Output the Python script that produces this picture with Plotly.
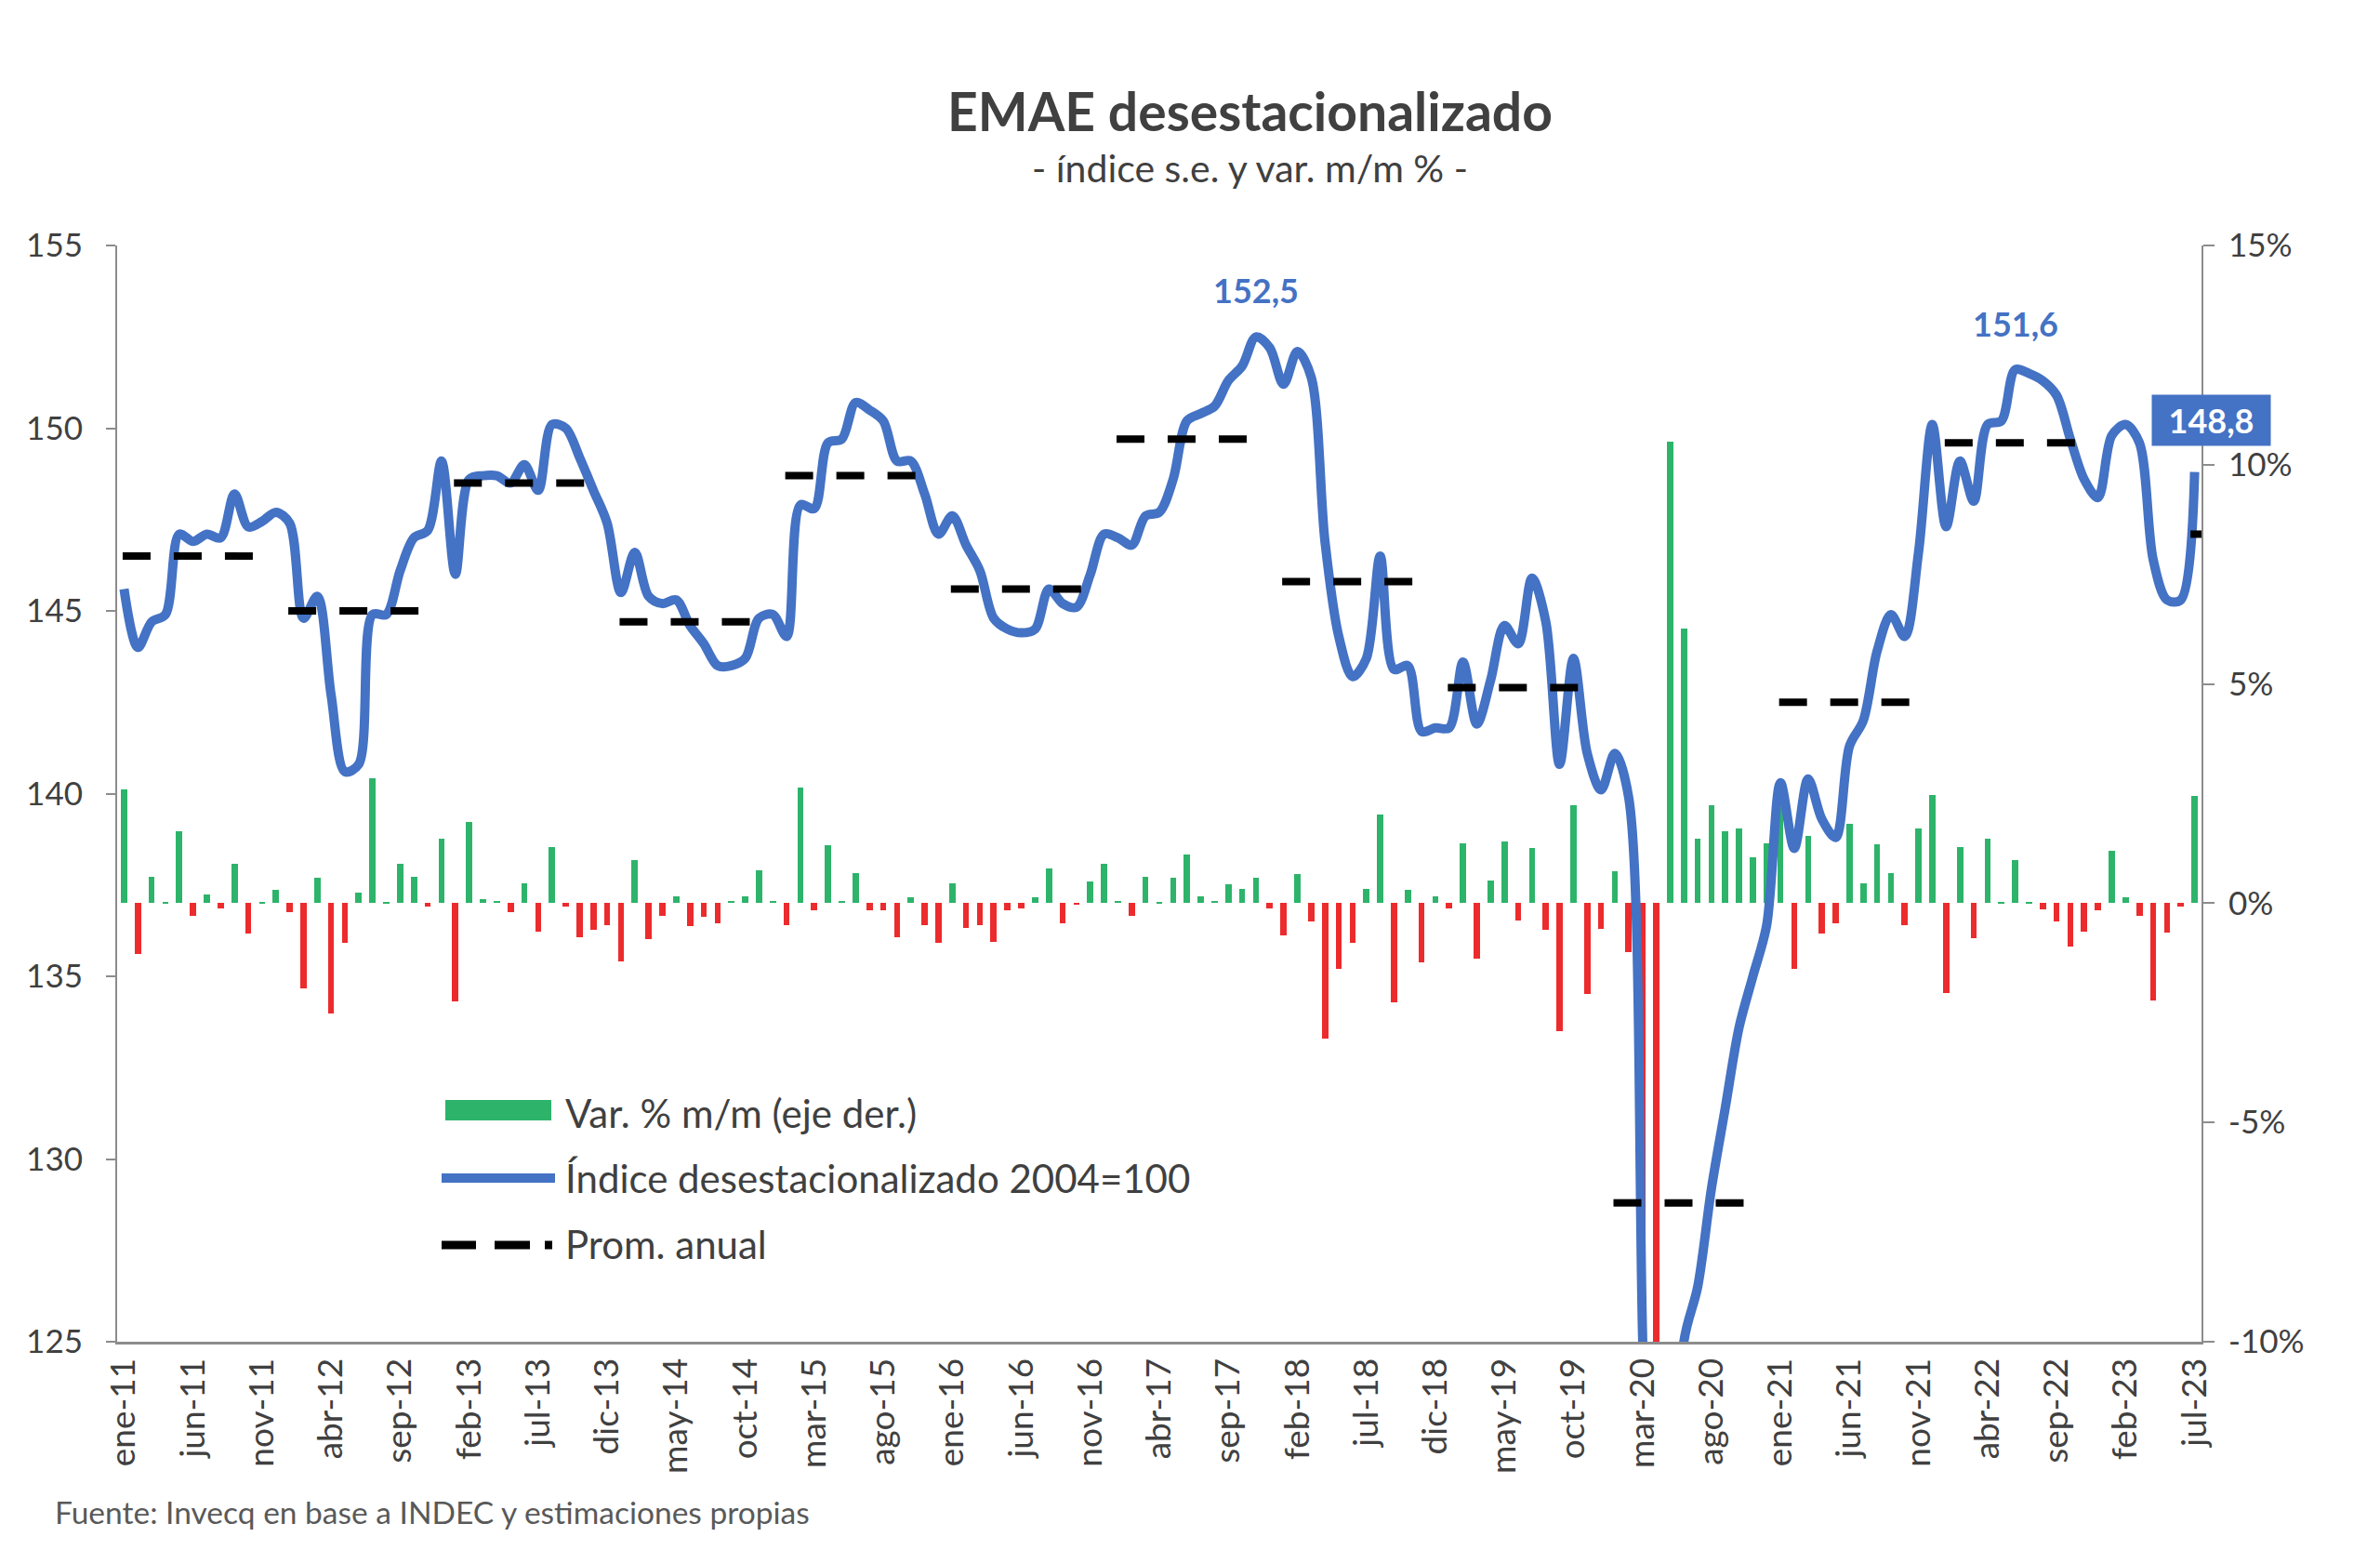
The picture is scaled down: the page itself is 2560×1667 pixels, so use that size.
import plotly.graph_objects as go

# ---------------- DATA ----------------
month_abbr = ["ene", "feb", "mar", "abr", "may", "jun", "jul", "ago", "sep", "oct", "nov", "dic"]
start_year = 2011
n_months = 151  # ene-11 .. jul-23

indice = [
    145.6, 144.0, 144.7, 144.9, 147.1, 146.9, 147.1, 147.0, 148.2, 147.3, 147.45, 147.7,   # 2011
    147.4, 144.8, 145.4, 142.7, 140.6, 140.8, 144.9, 144.9, 146.1, 147.0, 147.2, 149.1,   # 2012
    146.0, 148.6, 148.7, 148.7, 148.5, 149.0, 148.3, 150.1, 150.0, 149.2, 148.3, 147.4,   # 2013
    145.5, 146.6, 145.4, 145.2, 145.3, 144.6, 144.1, 143.5, 143.5, 143.7, 144.8, 144.9,   # 2014
    144.3, 147.9, 147.8, 149.6, 149.7, 150.7, 150.5, 150.2, 149.1, 149.1, 148.2, 147.1,   # 2015
    147.6, 146.8, 146.1, 144.8, 144.5, 144.4, 144.5, 145.6, 145.2, 145.1, 146.0, 147.1,   # 2016
    147.0, 146.8, 147.6, 147.7, 148.6, 150.2, 150.4, 150.6, 151.3, 151.7, 152.5, 152.2,   # 2017
    151.2, 152.1, 151.4, 146.9, 144.3, 143.2, 143.7, 146.5, 143.4, 143.5, 141.7, 141.8,   # 2018
    141.8, 143.6, 141.9, 143.1, 144.6, 144.1, 145.9, 144.7, 140.8, 143.7, 141.1, 140.1,   # 2019
    141.1, 139.9, 125.3, 105.5, 117.0, 125.0, 126.5, 129.2, 131.4, 133.6, 135.0, 136.4,   # 2020
    140.3, 138.5, 140.4, 139.3, 138.8, 141.3, 142.0, 143.9, 144.9, 144.3, 146.6, 150.1,   # 2021
    147.3, 149.1, 148.0, 150.1, 150.2, 151.6, 151.5, 151.3, 150.9, 149.7, 148.6, 148.1,   # 2022
    149.8, 150.1, 149.6, 146.4, 145.3, 145.3, 148.8,                                      # 2023
]

var_mm = [
    2.6, -1.16, 0.61, 0.03, 1.65, -0.28, 0.2, -0.12, 0.9, -0.69, 0.02, 0.3,               # 2011
    -0.2, -1.95, 0.58, -2.51, -0.91, 0.25, 2.84, 0.02, 0.89, 0.61, -0.07, 1.48,           # 2012
    -2.23, 1.86, 0.1, 0.05, -0.2, 0.46, -0.64, 1.29, -0.07, -0.78, -0.61, -0.5,           # 2013
    -1.32, 0.99, -0.81, -0.28, 0.16, -0.53, -0.3, -0.45, 0.05, 0.16, 0.76, 0.05,          # 2014
    -0.5, 2.64, -0.17, 1.32, 0.05, 0.68, -0.17, -0.17, -0.78, 0.13, -0.5, -0.91,          # 2015
    0.46, -0.56, -0.5, -0.89, -0.17, -0.12, 0.13, 0.79, -0.45, -0.03, 0.5, 0.9,           # 2016
    0.05, -0.28, 0.61, 0.02, 0.58, 1.12, 0.16, 0.05, 0.43, 0.33, 0.58, -0.12,             # 2017
    -0.74, 0.66, -0.41, -3.09, -1.49, -0.91, 0.33, 2.03, -2.26, 0.3, -1.35, 0.16,         # 2018
    -0.12, 1.37, -1.27, 0.51, 1.4, -0.4, 1.25, -0.61, -2.92, 2.23, -2.06, -0.58,          # 2019
    0.74, -1.11, -10.4, -16.0, 10.53, 6.27, 1.48, 2.24, 1.65, 1.7, 1.04, 1.37,            # 2020
    2.2, -1.49, 1.53, -0.69, -0.45, 1.81, 0.45, 1.35, 0.68, -0.5, 1.7, 2.47,              # 2021
    -2.05, 1.29, -0.79, 1.48, 0.03, 0.99, 0.02, -0.15, -0.41, -0.99, -0.64, -0.17,        # 2022
    1.2, 0.13, -0.28, -2.21, -0.66, -0.07, 2.44,                                          # 2023
]

prom_anual = [146.5, 145.0, 148.5, 144.7, 148.7, 145.6, 149.7, 145.8, 142.9, 128.8, 142.5, 149.6, 147.1]

left_ticks = [125, 130, 135, 140, 145, 150, 155]
right_ticks = [-10, -5, 0, 5, 10, 15]
right_ticktext = ["-10%", "-5%", "0%", "5%", "10%", "15%"]

# month labels
month_labels = [f"{month_abbr[i % 12]}-{(start_year + i // 12) % 100:02d}" for i in range(n_months)]
x = list(range(n_months))
tick_idx = list(range(0, n_months, 5))

# ---------------- STYLE ----------------
FONT = "Lato"
TXT = "#404040"
AXIS = "#8c8c8c"
GREEN = "#2DB46A"
RED = "#EC2B2D"
BLUE = "#4472C4"

fig = go.Figure()

# bars on main y (right side)
fig.add_trace(go.Bar(
    x=x, y=var_mm, width=0.45,
    marker=dict(color=[GREEN if v >= 0 else RED for v in var_mm], line=dict(width=0)),
    yaxis="y", name="Var. % m/m (eje der.)", showlegend=False,
))

# index line on y2 (left side)
fig.add_trace(go.Scatter(
    x=x, y=indice, mode="lines", yaxis="y2",
    line=dict(color=BLUE, width=10, shape="spline", smoothing=0.9),
    name="Índice desestacionalizado 2004=100", showlegend=False,
))

# annual averages
ax, ay = [], []
for k, v in enumerate(prom_anual):
    s = 12 * k
    e = min(s + 11, n_months - 1)
    if e - s < 11:  # partial last year: only a short dash at the end
        s, e = e - 0.3, e + 0.5
    else:
        s = s - 0.1
    ax += [s, e, None]
    ay += [v, v, None]
fig.add_trace(go.Scatter(
    x=ax, y=ay, mode="lines", yaxis="y2",
    line=dict(color="black", width=8, dash="30px,25px"),
    name="Prom. anual", showlegend=False, connectgaps=False,
))

# ---------------- LAYOUT ----------------
L, R, T, B = 126, 192, 264, 224
W, H = 2560, 1667
pw, ph = W - L - R, H - T - B

def px_x(p):
    return (p - L) / pw

def px_y(p):
    return (H - B - p) / ph

fig.update_layout(
    width=W, height=H,
    margin=dict(l=L, r=R, t=T, b=B, pad=0),
    paper_bgcolor="white", plot_bgcolor="white",
    showlegend=False, bargap=0,
    font=dict(family=FONT, color=TXT),
    xaxis=dict(
        range=[-0.5, n_months - 0.5],
        tickmode="array", tickvals=tick_idx, ticktext=[month_labels[i] for i in tick_idx],
        tickangle=-90, ticks="", showline=True, linecolor=AXIS, linewidth=3,
        showgrid=False, zeroline=False, ticklabelstandoff=0,
        tickfont=dict(family=FONT, size=37, color=TXT),
    ),
    yaxis=dict(
        side="right", range=[-10, 15],
        tickmode="array", tickvals=right_ticks, ticktext=right_ticktext,
        ticks="outside", ticklen=12, tickwidth=2, tickcolor=AXIS,
        showline=True, linecolor=AXIS, linewidth=2,
        showgrid=False, zeroline=False, ticklabelstandoff=8,
        tickfont=dict(family=FONT, size=35, color=TXT),
    ),
    yaxis2=dict(
        side="left", overlaying="y", range=[125, 155],
        tickmode="array", tickvals=left_ticks, ticktext=[str(t) for t in left_ticks],
        ticks="outside", ticklen=10, tickwidth=2, tickcolor=AXIS,
        showline=True, linecolor=AXIS, linewidth=2,
        showgrid=False, zeroline=False, ticklabelstandoff=18,
        tickfont=dict(family=FONT, size=35, color=TXT),
    ),
)

ann = []
# titles
ann.append(dict(text="<b>EMAE desestacionalizado</b>", xref="paper", yref="paper",
                x=px_x(1344), y=px_y(119), xanchor="center", yanchor="middle",
                showarrow=False, font=dict(family=FONT, size=57, color=TXT)))
ann.append(dict(text="- índice s.e. y var. m/m % -", xref="paper", yref="paper",
                x=px_x(1344), y=px_y(180), xanchor="center", yanchor="middle",
                showarrow=False, font=dict(family=FONT, size=41, color=TXT)))
ann.append(dict(text="Fuente: Invecq en base a INDEC y estimaciones propias", xref="paper", yref="paper",
                x=px_x(57), y=px_y(1626), xanchor="left", yanchor="middle",
                showarrow=False, font=dict(family=FONT, size=33.5, color="#595959")))

# value labels
def fmt(v):
    return f"{v:.1f}".replace(".", ",")

split = 9 * 12
i1 = max(range(0, split), key=lambda i: indice[i])
i2 = max(range(10 * 12, n_months), key=lambda i: indice[i])
for i in (i1, i2):
    ann.append(dict(text=f"<b>{fmt(indice[i])}</b>", x=i, y=indice[i], xref="x", yref="y2",
                    yshift=50, showarrow=False, xanchor="center", yanchor="middle",
                    font=dict(family=FONT, size=36, color=BLUE)))
last = n_months - 1
ann.append(dict(text=f"<b>{fmt(indice[last])}</b>", x=last, y=indice[last], xref="x", yref="y2",
                xshift=18, yshift=56, showarrow=False, xanchor="center", yanchor="middle",
                width=127, height=54, bgcolor=BLUE, borderpad=0,
                font=dict(family=FONT, size=36, color="white")))

# manual legend
leg_items = [("Var. % m/m (eje der.)", 1197), ("Índice desestacionalizado 2004=100", 1267), ("Prom. anual", 1338)]
for txt, yy in leg_items:
    ann.append(dict(text=txt, xref="paper", yref="paper", x=px_x(606), y=px_y(yy),
                    xanchor="left", yanchor="middle", showarrow=False,
                    font=dict(family=FONT, size=42, color=TXT)))
fig.update_layout(annotations=ann)

shapes = [
    dict(type="rect", xref="paper", yref="paper", x0=px_x(479), x1=px_x(593),
         y0=px_y(1205), y1=px_y(1183), fillcolor=GREEN, line=dict(width=0)),
    dict(type="line", xref="paper", yref="paper", x0=px_x(475), x1=px_x(597),
         y0=px_y(1267), y1=px_y(1267), line=dict(color=BLUE, width=10)),
    dict(type="line", xref="paper", yref="paper", x0=px_x(475), x1=px_x(512),
         y0=px_y(1339), y1=px_y(1339), line=dict(color="black", width=9)),
    dict(type="line", xref="paper", yref="paper", x0=px_x(532), x1=px_x(570),
         y0=px_y(1339), y1=px_y(1339), line=dict(color="black", width=9)),
    dict(type="line", xref="paper", yref="paper", x0=px_x(586), x1=px_x(594),
         y0=px_y(1339), y1=px_y(1339), line=dict(color="black", width=9)),
]
fig.update_layout(shapes=shapes)

fig.write_html("out.html", include_plotlyjs=True, config={"displayModeBar": False},
               post_script="document.body.style.margin='0';document.body.style.overflow='hidden';")
